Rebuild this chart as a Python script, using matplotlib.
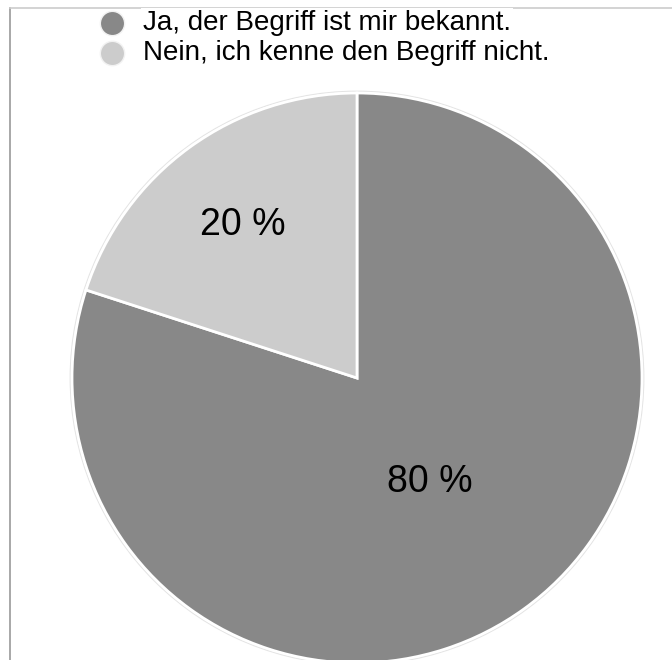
import matplotlib
matplotlib.use("Agg")
import matplotlib.pyplot as plt
from matplotlib.lines import Line2D
import numpy as np

plt.rcParams['font.family'] = ['Liberation Sans', 'DejaVu Sans']

labels = ["Ja, der Begriff ist mir bekannt.", "Nein, ich kenne den Begriff nicht."]
values = [80, 20]
colors = ["#888888", "#cccccc"]
label_radius = [0.435, 0.68]

W, H = 672, 660
fig = plt.figure(figsize=(W / 100, H / 100), dpi=100)
fig.patch.set_facecolor("white")

# chart frame (only left and top edges are visible)
fig.add_artist(Line2D([9.5 / W, 9.5 / W], [0, 1 - 7.5 / H], color="#999999", lw=1.2,
                      transform=fig.transFigure))
fig.add_artist(Line2D([9.5 / W, 1], [1 - 7.5 / H, 1 - 7.5 / H], color="#cccccc", lw=1.2,
                      transform=fig.transFigure))

# pie: center (357, 378) px, radius 285 px
cx, cy, r = 357, 378, 285
ax = fig.add_axes([(cx - r) / W, (H - cy - r) / H, 2 * r / W, 2 * r / H])

outline = plt.Circle((0, 0), 1.006, facecolor="none", edgecolor="#e4e4e4", lw=1.0,
                     clip_on=False)
ax.add_patch(outline)
wedges, _ = ax.pie(values, colors=colors, startangle=90, counterclock=False, radius=1,
                   wedgeprops=dict(edgecolor="white", linewidth=2.0))
for w in wedges:
    w.set_clip_on(False)
ax.set_xlim(-1, 1)
ax.set_ylim(-1, 1)
ax.axis("off")

total = sum(values)
for w, v, lr in zip(wedges, values, label_radius):
    mid = np.deg2rad((w.theta1 + w.theta2) / 2)
    ax.text(lr * np.cos(mid), lr * np.sin(mid), f"{round(100 * v / total)} %",
            ha="center", va="center_baseline", fontsize=27, color="black")

# legend
for i, (lab, col) in enumerate(zip(labels, colors)):
    y = 1 - (23 + 30 * i) / H
    fig.add_artist(Line2D([112 / W], [y], marker="o", markersize=17.5, color=col,
                          markeredgecolor="#f2f2f2", markeredgewidth=1.0, linestyle="none",
                          transform=fig.transFigure))
    fig.text(143 / W, y, lab, ha="left", va="center", fontsize=20, color="black",
             bbox=dict(facecolor="white", edgecolor="none", pad=1.5))

fig.savefig("out.png", dpi=100, facecolor="white")
